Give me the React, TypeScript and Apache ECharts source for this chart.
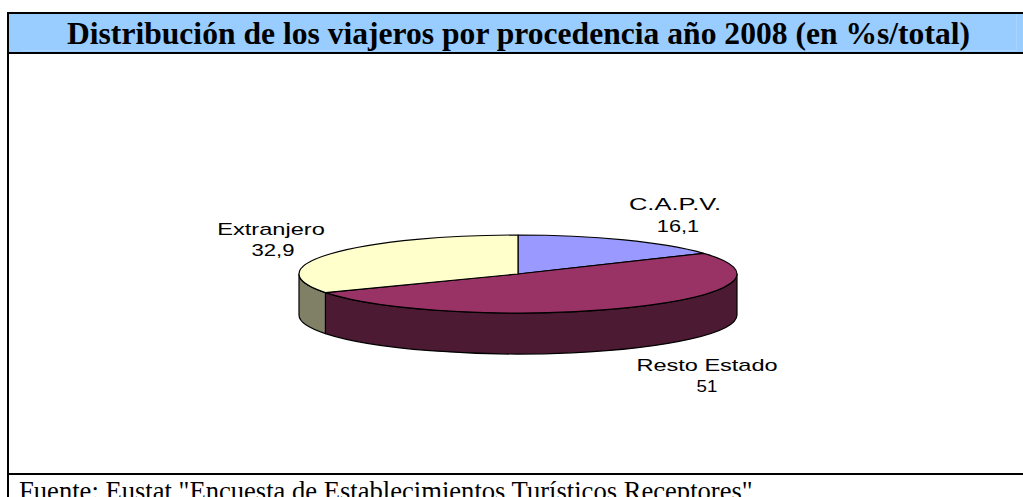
import React, { useEffect, useRef } from "react";
import * as echarts from "echarts";

const categories = ["C.A.P.V.", "Resto Estado", "Extranjero"];
const values = [16.1, 51, 32.9];
const topColors = ["#9999FF", "#993366", "#FFFFCC"];
const wallColors = ["#4D4D80", "#4D1A33", "#808066"];
const titleText = "Distribución de los viajeros por procedencia año 2008 (en %s/total)";
const sourceText = 'Fuente: Eustat "Encuesta de Establecimientos Turísticos Receptores"';
const labelPlaces = [
  { cx: 675, y1: 204, y2: 226, cx2: 678, sx: 1.5, sx2: 1.28 },
  { cx: 707, y1: 365, y2: 386, cx2: 707, sx: 1.385, sx2: 1.1 },
  { cx: 271, y1: 229, y2: 250, cx2: 273, sx: 1.39, sx2: 1.3 },
];

const CX = 518, CY = 274, RX = 219, RY = 39, DEPTH = 41;
const total = values.reduce((a, b) => a + b, 0);

function angleRange(i: number): [number, number] {
  let s = 0;
  for (let k = 0; k < i; k++) s += values[k];
  return [(s / total) * Math.PI * 2, ((s + values[i]) / total) * Math.PI * 2];
}
const px = (t: number) => CX + RX * Math.sin(t);
const py = (t: number, d = 0) => CY - RY * Math.cos(t) + d;

function arc(t: number, d: number, sweep: number, large: number) {
  return `A ${RX} ${RY} 0 ${large} ${sweep} ${px(t)} ${py(t, d)}`;
}

function topPath(i: number) {
  const [a, b] = angleRange(i);
  const large = b - a > Math.PI ? 1 : 0;
  return `M ${CX} ${CY} L ${px(a)} ${py(a)} ${arc(b, 0, 1, large)} Z`;
}

function wallPath(i: number) {
  const [a0, b0] = angleRange(i);
  const a = Math.max(a0, Math.PI / 2);
  const b = Math.min(b0, (Math.PI * 3) / 2);
  if (b <= a) return "";
  return `M ${px(a)} ${py(a)} ${arc(b, 0, 1, 0)} L ${px(b)} ${py(b, DEPTH)} ${arc(a, DEPTH, 0, 0)} Z`;
}

const lineStyle = { stroke: "#000", lineWidth: 1.2, lineJoin: "round" };

function wallItem(_: any, api: any) {
  const i = api.value(0);
  const d = wallPath(i);
  if (!d) return { type: "group", children: [] };
  return { type: "path", shape: { pathData: d }, style: { fill: wallColors[i], ...lineStyle } };
}

function labelEl(text: string, cx: number, y: number, sx: number) {
  return {
    type: "text",
    x: cx,
    y,
    scaleX: sx,
    style: {
      text,
      fill: "#000",
      font: "17px 'Liberation Sans'",
      align: "center",
      verticalAlign: "middle",
    },
  };
}

function topItem(_: any, api: any) {
  const i = api.value(0);
  const p = labelPlaces[i];
  return {
    type: "group",
    children: [
      { type: "path", shape: { pathData: topPath(i) }, style: { fill: topColors[i], ...lineStyle } },
      labelEl(categories[i], p.cx, p.y1, p.sx),
      labelEl(String(values[i]).replace(".", ","), p.cx2, p.y2, p.sx2),
    ],
  };
}

export default function App() {
  const ref = useRef<HTMLDivElement>(null);
  useEffect(() => {
    document.body.style.margin = "0";
    document.body.style.overflow = "hidden";
    const chart = echarts.init(ref.current!, null, { renderer: "svg" });
    const rows = values.map((v, i) => [i, v]);
    chart.setOption({
      animation: false,
      backgroundColor: "#fff",
      graphic: {
        elements: [
          { type: "rect", z: 0, shape: { x: 9, y: 14, width: 1014, height: 39 }, style: { fill: "#99CCFF" } },
          { type: "line", z: 1, shape: { x1: 22, y1: 50.5, x2: 1016, y2: 50.5 }, style: { stroke: "#A9D4FF", lineWidth: 1 } },
          { type: "line", z: 1, shape: { x1: 1016.5, y1: 14, x2: 1016.5, y2: 51 }, style: { stroke: "#A9D4FF", lineWidth: 1 } },
          { type: "line", z: 2, shape: { x1: 7, y1: 13, x2: 1023, y2: 13 }, style: { stroke: "#000", lineWidth: 2 } },
          { type: "line", z: 2, shape: { x1: 7, y1: 53, x2: 1023, y2: 53 }, style: { stroke: "#000", lineWidth: 2 } },
          { type: "line", z: 2, shape: { x1: 7, y1: 474, x2: 1023, y2: 474 }, style: { stroke: "#000", lineWidth: 2 } },
          { type: "line", z: 2, shape: { x1: 8, y1: 12, x2: 8, y2: 497 }, style: { stroke: "#000", lineWidth: 2 } },
          {
            type: "text", z: 3, x: 518.5, y: 33,
            style: { text: titleText, fill: "#000", font: "bold 31.6px 'Liberation Serif'", align: "center", verticalAlign: "middle" },
          },
          {
            type: "text", z: 3, x: 19, y: 490.5,
            style: { text: sourceText, fill: "#000", font: "26.6px 'Liberation Serif'", align: "left", verticalAlign: "middle" },
          },
        ],
      },
      series: [
        { type: "custom", coordinateSystem: "none", data: rows, renderItem: wallItem, silent: true, z: 2 },
        { type: "custom", coordinateSystem: "none", data: rows, renderItem: topItem, silent: true, z: 3 },
      ],
    });
    return () => chart.dispose();
  }, []);
  return <div ref={ref} style={{ width: 1023, height: 497 }} />;
}
